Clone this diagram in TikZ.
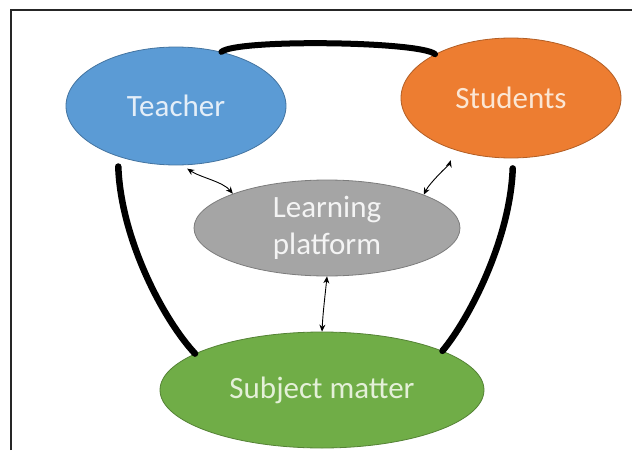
\documentclass[tikz,border=0pt]{standalone}
\usepackage{fontspec}
\setmainfont{Carlito}
\usetikzlibrary{shapes.geometric,arrows.meta}
\definecolor{tfill}{HTML}{5B9BD5}
\definecolor{sfill}{HTML}{ED7D31}
\definecolor{lfill}{HTML}{A5A5A5}
\definecolor{mfill}{HTML}{70AD47}
\definecolor{ttext}{HTML}{E4EEF8}
\definecolor{stext}{HTML}{FBE6D4}
\definecolor{ltext}{HTML}{F4F4F4}
\definecolor{mtext}{HTML}{E4F0D8}
\tikzset{
  blob/.style={ellipse, inner sep=0pt, align=center, line width=0.8pt,
    font=\fontsize{31}{37}\selectfont},
  thickcon/.style={line width=6.5pt, line cap=round, black},
  thincon/.style={line width=0.9pt, black,
    {Stealth[length=7pt,width=6pt]}-{Stealth[length=7pt,width=6pt]}},
  frameline/.style={line width=1.8pt, black!85}
}
\begin{document}
\begin{tikzpicture}[x=1pt,y=-1pt]
\useasboundingbox (0,0) rectangle (632,450);
\draw[frameline] (11,450) -- (11,10) -- (632,10);

\node[blob, fill=tfill, draw=tfill!75!black, text=ttext,
  minimum width=220pt, minimum height=118pt] (teacher) at (176,106) {Teacher};
\node[blob, fill=sfill, draw=sfill!75!black, text=stext,
  minimum width=220pt, minimum height=120pt] (students) at (511,98) {Students};
\node[blob, fill=lfill, draw=lfill!75!black, text=ltext,
  minimum width=266pt, minimum height=96pt] (learning) at (327,228) {Learning\\platform};
\node[blob, fill=mfill, draw=mfill!75!black, text=mtext,
  minimum width=324pt, minimum height=116pt] (subject) at (322,390) {Subject matter};

% thick connectors
\draw[thickcon, line width=6pt] (teacher.50) .. controls +(15,-13) and +(-15,-13) .. (students.150);
\draw[thickcon, shorten <=10pt] (teacher.221) .. controls +(3,83) and +(-31,-33) .. (subject.164);
\draw[thickcon, shorten <=10pt] (students.-88) .. controls +(-3,82) and +(26,-31) .. (subject.18);

% thin double arrows
\draw[thincon, shorten <=6pt] (teacher.-84) .. controls +(18,12) and +(-10,-12) .. (learning.160);
\draw[thincon, shorten <=11pt] (students.222) .. controls +(-4,14) and +(6,-12) .. (learning.19);
\draw[thincon] (learning.south) .. controls +(-2,20) and +(1,-20) .. (subject.north);
\end{tikzpicture}
\end{document}
